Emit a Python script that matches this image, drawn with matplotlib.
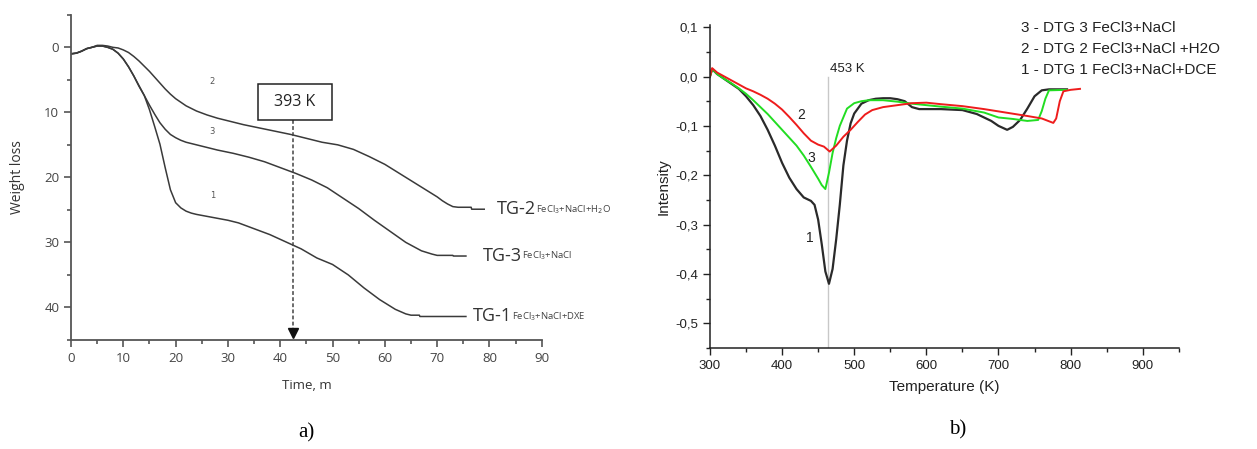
import matplotlib
matplotlib.use("Agg")
import matplotlib.pyplot as plt
from matplotlib.ticker import MultipleLocator, FuncFormatter
from matplotlib.patches import Rectangle

# ---------------- data: panel a) TG curves ----------------
t_tg2 = [0, 1, 2, 3, 4, 5, 6, 7, 8, 9, 10, 11, 12, 13, 14, 15, 16, 17, 18, 19, 20, 22, 24, 26, 28, 30,
         33, 36, 39, 42, 45, 48, 51, 54, 57, 60, 62, 64, 66, 68, 70, 71, 72, 73, 74, 76.5, 76.6, 79]
w_tg2 = [1.0, 0.9, 0.6, 0.2, 0.0, -0.3, -0.3, -0.2, 0.0, 0.1, 0.4, 0.8, 1.4, 2.1, 2.9, 3.7, 4.6, 5.5, 6.4, 7.2,
         7.9, 9.0, 9.8, 10.4, 10.9, 11.3, 11.9, 12.4, 12.9, 13.4, 14.0, 14.6, 15.0, 15.7, 16.8, 18.0, 19.0,
         20.0, 21.0, 22.0, 23.0, 23.6, 24.1, 24.5, 24.6, 24.6, 24.9, 24.9]

t_tg3 = [0, 1, 2, 3, 4, 5, 6, 7, 8, 9, 10, 11, 12, 13, 14, 15, 16, 17, 18, 19, 20, 21, 22, 24, 26, 28, 31,
         34, 37, 40, 43, 46, 49, 52, 55, 58, 61, 64, 67, 69, 70, 73, 73.1, 75.5]
w_tg3 = [1.0, 0.9, 0.6, 0.2, 0.0, -0.2, -0.2, 0.0, 0.3, 0.9, 1.8, 3.0, 4.4, 5.9, 7.4, 8.9, 10.3, 11.6, 12.6,
         13.4, 13.9, 14.3, 14.6, 15.0, 15.4, 15.8, 16.3, 16.9, 17.6, 18.5, 19.4, 20.4, 21.6, 23.2, 24.8,
         26.6, 28.3, 30.0, 31.3, 31.8, 32.0, 32.0, 32.1, 32.1]

t_tg1 = [0, 1, 2, 3, 4, 5, 6, 7, 8, 9, 10, 11, 12, 13, 14, 15, 16, 17, 18, 19, 20, 21, 22, 23, 24, 26, 28,
         30, 32, 35, 38, 41, 44, 47, 50, 53, 56, 59, 62, 64, 65, 66.6, 66.7, 75.5]
w_tg1 = [1.0, 0.9, 0.6, 0.2, 0.0, -0.2, -0.2, 0.0, 0.3, 0.9, 1.8, 3.0, 4.4, 6.0, 7.4, 9.6, 12.2, 14.9, 18.5,
         21.9, 23.9, 24.7, 25.2, 25.5, 25.7, 26.0, 26.3, 26.6, 27.0, 27.9, 28.8, 29.9, 31.0, 32.4, 33.4,
         35.0, 37.0, 38.8, 40.3, 41.0, 41.2, 41.2, 41.4, 41.4]

tg_main = ["TG-2", "TG-3", "TG-1"]
tg_sub = [r"$\mathregular{FeCl_{3}}$+NaCl+H$_{2}$O", r"$\mathregular{FeCl_{3}}$+NaCl", r"$\mathregular{FeCl_{3}}$+NaCl+DXE"]
curve_numbers_a = ["2", "3", "1"]
marker_time = 42.5
marker_label = "393 K"

# ---------------- data: panel b) DTG curves ----------------
T_dtg1 = [300, 303, 310, 320, 330, 340, 350, 360, 370, 380, 390, 400, 410, 420, 430, 440, 445, 450, 455, 460,
          465, 470, 475, 480, 485, 490, 495, 500, 510, 520, 530, 540, 550, 560, 570, 580, 590, 620, 650, 670,
          690, 700, 712, 720, 730, 740, 750, 760, 770, 795]
I_dtg1 = [0.0, 0.015, 0.005, -0.005, -0.015, -0.025, -0.04, -0.058, -0.08, -0.108, -0.14, -0.175, -0.205,
          -0.228, -0.245, -0.252, -0.26, -0.29, -0.34, -0.395, -0.42, -0.39, -0.33, -0.26, -0.18, -0.13,
          -0.095, -0.075, -0.055, -0.048, -0.045, -0.044, -0.044, -0.046, -0.05, -0.062, -0.066, -0.066,
          -0.068, -0.076, -0.09, -0.1, -0.108, -0.102, -0.088, -0.065, -0.04, -0.028, -0.026, -0.026]

T_dtg3 = [300, 303, 310, 320, 330, 340, 350, 360, 370, 380, 390, 400, 410, 420, 430, 440, 450, 455, 460, 465,
          470, 475, 480, 490, 500, 510, 520, 540, 560, 580, 600, 620, 650, 680, 700, 720, 740, 755, 760, 765,
          770, 795]
I_dtg3 = [0.0, 0.015, 0.005, -0.005, -0.014, -0.024, -0.035, -0.048, -0.062, -0.076, -0.092, -0.108, -0.124,
          -0.14, -0.16, -0.183, -0.207, -0.22, -0.228, -0.195, -0.155, -0.125, -0.1, -0.065, -0.054, -0.05,
          -0.048, -0.048, -0.051, -0.055, -0.058, -0.061, -0.065, -0.073, -0.083, -0.086, -0.09, -0.088,
          -0.07, -0.045, -0.028, -0.027]

T_dtg2 = [300, 303, 310, 320, 330, 340, 350, 360, 370, 380, 390, 400, 410, 420, 430, 440, 450, 458, 466, 475,
          485, 495, 505, 515, 525, 540, 560, 580, 600, 620, 650, 680, 710, 740, 760, 776, 780, 785, 790, 800, 813]
I_dtg2 = [0.0, 0.017, 0.008, 0.0, -0.008, -0.016, -0.024, -0.03, -0.037, -0.045, -0.055, -0.067, -0.082,
          -0.098, -0.115, -0.13, -0.138, -0.142, -0.152, -0.14, -0.122, -0.108, -0.092, -0.077, -0.068,
          -0.062, -0.058, -0.054, -0.053, -0.056, -0.06, -0.066, -0.073, -0.08, -0.085, -0.094, -0.085,
          -0.05, -0.03, -0.027, -0.025]

legend_lines = ["3 - DTG 3 FeCl3+NaCl", "2 - DTG 2 FeCl3+NaCl +H2O", "1 - DTG 1 FeCl3+NaCl+DCE"]
peak_T = 464
peak_label = "453 K"

# ---------------- figure ----------------
fig = plt.figure(figsize=(12.57, 4.49), dpi=100)

# ===== panel a =====
grey = "#555555"
axa = fig.add_axes([0.0565, 0.243, 0.3745, 0.724])
for t, w in [(t_tg2, w_tg2), (t_tg3, w_tg3), (t_tg1, w_tg1)]:
    axa.plot(t, w, color="#3a3a3a", lw=1.1)
axa.set_xlim(0, 90)
axa.set_ylim(45, -5)
axa.spines["top"].set_visible(False)
axa.spines["right"].set_visible(False)
for s in ["left", "bottom"]:
    axa.spines[s].set_color(grey)
    axa.spines[s].set_linewidth(1.3)
axa.xaxis.set_major_locator(MultipleLocator(10))
axa.xaxis.set_minor_locator(MultipleLocator(5))
axa.yaxis.set_major_locator(MultipleLocator(10))
axa.yaxis.set_minor_locator(MultipleLocator(5))
axa.set_yticks([0, 10, 20, 30, 40])
axa.tick_params(which="both", direction="out", color=grey, width=1.2)
axa.tick_params(which="major", length=5, labelsize=9.5, labelcolor="#444444")
axa.tick_params(which="minor", length=3)
for lab in axa.get_xticklabels() + axa.get_yticklabels():
    lab.set_family("Open Sans")
axa.set_xlabel("Time, m", fontsize=9.5, family="Open Sans", color="#333333", labelpad=10)
axa.set_ylabel("Weight loss", fontsize=10, family="Open Sans", color="#333333", labelpad=14)

# end labels
end_pts = [(t_tg2[-1], w_tg2[-1]), (t_tg3[-1], w_tg3[-1]), (t_tg1[-1], w_tg1[-1])]
label_gap = [2.4, 3.2, 1.3]
for (tx, wy), gap, main, sub in zip(end_pts, label_gap, tg_main, tg_sub):
    txt = axa.text(tx + gap, wy, main, fontsize=13, family="Open Sans", color="#333333",
                   va="center", ha="left")
    axa.annotate(sub, xy=(1.0, 0.15), xycoords=txt, fontsize=6.8, family="Open Sans",
                 color="#444444", va="bottom", ha="left")

# small curve numbers
num_pos_a = [(27, 5.2), (27, 13.0), (27, 22.8)]
for (x, y), s in zip(num_pos_a, curve_numbers_a):
    axa.text(x, y, s, fontsize=6, color="#555555", ha="center", va="center")

# 393 K marker
axa.add_patch(Rectangle((35.7, 5.7), 14.1, 5.5, fill=True, fc="white", ec="#222222", lw=1.1, zorder=4))
axa.text(42.8, 8.45, marker_label, fontsize=11.5, family="Open Sans", color="#222222",
         ha="center", va="center", zorder=5)
axa.plot([marker_time, marker_time], [11.2, 43.5], ls=(0, (2.5, 1.5)), color="#444444", lw=1.1)
axa.plot([marker_time], [44.0], marker="v", color="#111111", ms=7, clip_on=False)

# ===== panel b =====
axb = fig.add_axes([0.5648, 0.225, 0.373, 0.72])
axb.plot(T_dtg1, I_dtg1, color="#2a2a2a", lw=1.6)
axb.plot(T_dtg3, I_dtg3, color="#22dd22", lw=1.4)
axb.plot(T_dtg2, I_dtg2, color="#ee1c1c", lw=1.4)
axb.plot([peak_T, peak_T], [0.0, -0.55], color="#c8c8c8", lw=1.0, zorder=0)
axb.set_xlim(300, 950)
axb.set_ylim(-0.55, 0.105)
axb.spines["top"].set_visible(False)
axb.spines["right"].set_visible(False)
for s in ["left", "bottom"]:
    axb.spines[s].set_color("#222222")
    axb.spines[s].set_linewidth(1.1)
axb.xaxis.set_major_locator(MultipleLocator(100))
axb.xaxis.set_minor_locator(MultipleLocator(50))
axb.yaxis.set_major_locator(MultipleLocator(0.1))
axb.yaxis.set_minor_locator(MultipleLocator(0.05))
axb.yaxis.set_major_formatter(FuncFormatter(lambda v, p: f"{v:.1f}".replace(".", ",").replace("-0,0", "0,0")))
axb.tick_params(which="both", direction="out", color="#222222", width=1.0)
axb.tick_params(which="major", length=5, labelsize=9.5, labelcolor="#222222")
axb.tick_params(which="minor", length=3)
for lab in axb.get_xticklabels() + axb.get_yticklabels():
    lab.set_family("Liberation Sans")
axb.set_xlabel("Temperature (K)", fontsize=11, family="Liberation Sans", color="#222222", labelpad=6)
axb.set_ylabel("Intensity", fontsize=11, family="Liberation Sans", color="#222222", labelpad=3)

axb.text(peak_T + 2, 0.004, peak_label, fontsize=9.5, family="Liberation Sans", color="#222222",
         ha="left", va="bottom")
num_pos_b = [(427, -0.078, "2"), (441, -0.165, "3"), (439, -0.327, "1")]
for x, y, s in num_pos_b:
    axb.text(x, y, s, fontsize=10, family="Liberation Sans", color="#222222", ha="center", va="center")

for i, line in enumerate(legend_lines):
    fig.text(1021 / 1257, 1 - (28 + 21 * i) / 449, line, fontsize=11, family="Liberation Sans",
             color="#222222", ha="left", va="center")

# captions
fig.text(306 / 1257, 1 - 433 / 449, "a)", fontsize=15, family="Liberation Serif", ha="center", va="center")
fig.text(958 / 1257, 1 - 430 / 449, "b)", fontsize=15, family="Liberation Serif", ha="center", va="center")

fig.savefig("out.png", dpi=100, facecolor="white")
